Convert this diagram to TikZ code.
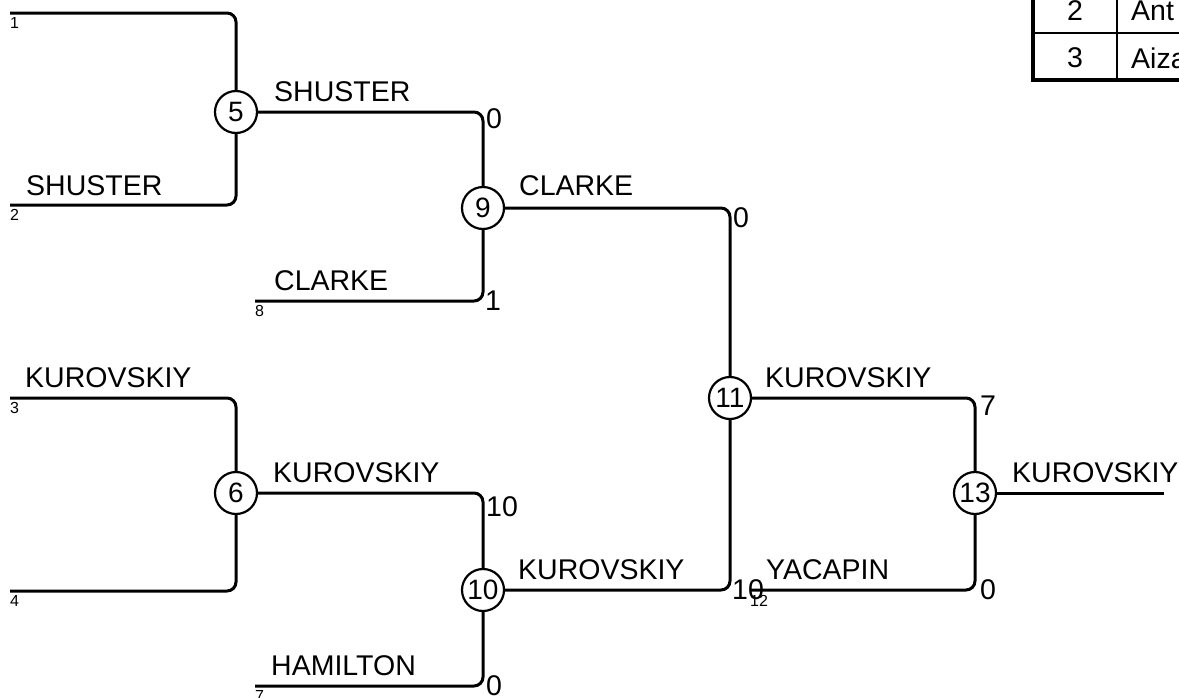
\documentclass[tikz,border=0pt]{standalone}
\usepackage{fontspec}
\setmainfont{Liberation Sans}
\newcommand\bigtxt{\fontsize{28.5}{32}\selectfont}
\newcommand\circtxt{\fontsize{28}{32}\selectfont}
\newcommand\smalltxt{\fontsize{16}{18}\selectfont}
\begin{document}
\begin{tikzpicture}[x=1pt,y=-1pt,
  wire/.style={line width=3pt,rounded corners=9pt},
  matchcirc/.style={circle,draw,line width=2.2pt,minimum size=42pt,inner sep=0pt,fill=white,font=\circtxt},
  namelbl/.style={anchor=base west,inner sep=0pt,font=\bigtxt},
  scoretop/.style={anchor=north west,inner sep=0pt,font=\bigtxt},
  scorebot/.style={anchor=west,inner sep=0pt,font=\bigtxt},
  seedlbl/.style={anchor=north west,inner sep=0pt,font=\smalltxt},
  celltxt/.style={inner sep=0pt,font=\bigtxt}]
\useasboundingbox (0,0) rectangle (1179,697);
\clip (0,0) rectangle (1179,697);

% match circles
\node[matchcirc] (c5) at (236,112) {5};
\node[matchcirc] (c6) at (236,493) {6};
\node[matchcirc] (c9) at (483,208) {9};
\node[matchcirc] (c10) at (483,590) {10};
\node[matchcirc] (c11) at (730,398) {11};
\node[matchcirc] (c13) at (975,493) {13};

% entry points
\coordinate (e1) at (10,13);
\coordinate (e2) at (10,205);
\coordinate (e3) at (10,398);
\coordinate (e4) at (10,591);
\coordinate (e8) at (255,301);
\coordinate (e7) at (255,686);
\coordinate (e12) at (750,590);
\coordinate (fin) at (1164,493);

% wires
\draw[wire] (e1) -| (c5);
\draw[wire] (e2) -| (c5);
\draw[wire] (e3) -| (c6);
\draw[wire] (e4) -| (c6);
\draw[wire] (e8) -| (c9);
\draw[wire] (e7) -| (c10);
\draw[wire] (e12) -| (c13);
\draw[wire] (c5) -| (c9);
\draw[wire] (c6) -| (c10);
\draw[wire] (c9) -| (c11);
\draw[wire] (c10) -| (c11);
\draw[wire] (c11) -| (c13);
\draw[wire] (c13) -- (fin);

% seed numbers
\node[seedlbl] (n1) at (10,17) {1};
\node[seedlbl] (n2) at (10,209) {2};
\node[seedlbl] (n3) at (10,402) {3};
\node[seedlbl] (n4) at (10,595) {4};
\node[seedlbl] (n8) at (255,305) {8};
\node[seedlbl] (n7) at (255,690) {7};
\node[seedlbl] (n12) at (750,595) {12};

% names
\node[namelbl] (l2) at (26,195) {SHUSTER};
\node[namelbl] (l5) at (274,101) {SHUSTER};
\node[namelbl] (l9) at (519,195) {CLARKE};
\node[namelbl] (l8) at (274,290) {CLARKE};
\node[namelbl] (l3) at (25,387) {KUROVSKIY};
\node[namelbl] (l6) at (273,482) {KUROVSKIY};
\node[namelbl] (l10) at (518,579) {KUROVSKIY};
\node[namelbl] (l7) at (271,675) {HAMILTON};
\node[namelbl] (l11) at (765,387) {KUROVSKIY};
\node[namelbl] (l12) at (766,579) {YACAPIN};
\node[namelbl] (l13) at (1012,482) {KUROVSKIY};

% scores
\node[scoretop] (s5) at (486,108) {0};
\node[scorebot] (s8) at (485,301) {1};
\node[scoretop] (s9) at (733,207) {0};
\node[scorebot] (s10b) at (732,590) {10};
\node[scoretop] (s6) at (486,496) {10};
\node[scorebot] (s7) at (486,686) {0};
\node[scoretop] (s11) at (980,396) {7};
\node[scorebot] (s12) at (980,590) {0};

% table
\draw[line width=2pt] (1117,-20) -- (1117,80);
\draw[line width=2pt] (1033,33) -- (1200,33);
\draw[line width=4pt] (1033,-20) -- (1033,80) -- (1200,80);
\node[celltxt] (t2) at (1075,11) {2};
\node[celltxt] (t3) at (1075,58) {3};
\node[celltxt,anchor=west] (t2n) at (1131,11) {Ant};
\node[celltxt,anchor=west] (t3n) at (1131,58) {Aiza};
\end{tikzpicture}
\end{document}
